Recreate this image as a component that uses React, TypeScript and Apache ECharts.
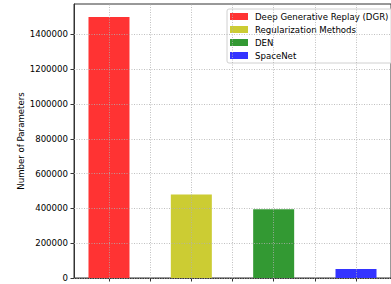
import React, { useEffect, useRef } from "react";
import * as echarts from "echarts";

const methods = ["Deep Generative Replay (DGR)", "Regularization Methods", "DEN", "SpaceNet"];
const positions = [0, 1, 2, 3];
const parameters = [1500000, 480000, 395000, 52000];
const colors = ["#ff3333", "#cccc33", "#339933", "#3333ff"];
const xTicks = [0, 0.5, 1, 1.5, 2, 2.5, 3];
const yTicks = [0, 200000, 400000, 600000, 800000, 1000000, 1200000, 1400000];
const yMax = 1575000;
const xMin = -0.425;
const xMax = 3.425;

export default function App() {
  const ref = useRef<HTMLDivElement>(null);
  useEffect(() => {
    if (!ref.current) return;
    const chart = echarts.init(ref.current, null, { renderer: "svg" });
    const font = "DejaVu Sans";
    const gridLine = { color: "#b0b0b0", width: 0.8, type: [1, 1.5] as any };
    const series: any[] = methods.map((name, i) => ({
      type: "bar",
      name,
      data: [[positions[i], parameters[i]]],
      barWidth: 41,
      barGap: "-100%",
      itemStyle: { color: colors[i] },
    }));
    series[0].markLine = {
      silent: true,
      symbol: "none",
      label: { show: false },
      lineStyle: gridLine,
      z: 5,
      data: [
        ...xTicks.map((v) => ({ xAxis: v })),
        ...yTicks.map((v) => ({ yAxis: v })),
      ],
    };
    chart.setOption({
      animation: false,
      textStyle: { fontFamily: font },
      grid: {
        left: 74,
        right: 0,
        top: 4,
        bottom: 6,
        show: true,
        borderColor: "#333",
        borderWidth: 1,
        backgroundColor: "transparent",
      },
      legend: {
        orient: "vertical",
        left: 227,
        top: 9,
        padding: [3, 6, 3, 3],
        itemWidth: 18,
        itemHeight: 7,
        itemGap: 4,
        icon: "rect",
        borderColor: "#d0d0d0",
        borderWidth: 1,
        borderRadius: 2,
        backgroundColor: "rgba(255,255,255,0.8)",
        textStyle: { fontFamily: font, fontSize: 8.6, color: "#000", padding: [0, 0, 0, 2] },
        data: methods,
      },
      xAxis: {
        type: "value",
        min: xMin,
        max: xMax,
        axisLine: { show: true, onZero: false, lineStyle: { color: "#333", width: 1 } },
        axisTick: { show: true, customValues: xTicks, length: 3.5, lineStyle: { color: "#333" } },
        axisLabel: { show: false },
        splitLine: { show: false },
      },
      yAxis: {
        type: "value",
        min: 0,
        max: yMax,
        name: "Number of Parameters",
        nameLocation: "middle",
        nameGap: 49,
        nameMoveOverlap: false,
        nameTextStyle: { fontFamily: font, fontSize: 8.6, color: "#000" },
        axisLine: { show: true, onZero: false, lineStyle: { color: "#333", width: 1 } },
        axisTick: { show: true, customValues: yTicks, length: 3.5, lineStyle: { color: "#333" } },
        axisLabel: {
          customValues: yTicks,
          formatter: (v: number) => String(v),
          fontFamily: font,
          fontSize: 8.6,
          color: "#000",
          margin: 6,
        },
        splitLine: { show: false },
      },
      series,
    });
    return () => chart.dispose();
  }, []);
  return (
    <div
      ref={ref}
      style={{ position: "fixed", left: 0, top: 0, width: 391, height: 284, background: "#fff" }}
    />
  );
}
